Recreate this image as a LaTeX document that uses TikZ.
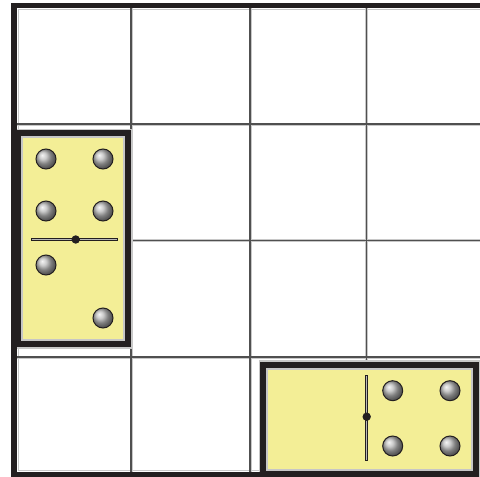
\documentclass[tikz,border=0pt]{standalone}
\definecolor{inkdark}{RGB}{35,31,32}
\definecolor{domyellow}{RGB}{243,238,150}
\definecolor{gridgray}{RGB}{80,80,80}
\definecolor{halo}{RGB}{200,200,200}
\tikzset{
  gridline/.style={gridgray, line width=1.6pt},
  gridhalo/.style={halo, line width=3pt},
  frame/.style={inkdark, line width=5.5pt},
  pip/.style={ball color=gray!55},
  pipedge/.style={draw=inkdark, line width=1pt},
}
\newcommand{\pipat}[2]{%
  \shade[pip] (#1,#2) circle (10pt);
  \draw[pipedge] (#1,#2) circle (10pt);}
\newcommand{\dominobox}[4]{% x1 y1 x2 y2
  \fill[halo] (#1-1.5,#2-1.5) rectangle (#3+1.5,#4+1.5);
  \fill[inkdark] (#1,#2) rectangle (#3,#4);
  \fill[gray!45] (#1+6,#2+6) rectangle (#3-6,#4-6);
  \fill[domyellow] (#1+8,#2+8) rectangle (#3-8,#4-8);}
\begin{document}
\begin{tikzpicture}[x=1pt,y=-1pt]
\useasboundingbox (0,0) rectangle (480,477);
\fill[white] (0,0) rectangle (480,477);
% grid halos
\foreach \gx in {131,250,366.5}
  \draw[gridhalo] (\gx,5.5) -- (\gx,474.5);
\foreach \gy in {124,240.5,357}
  \draw[gridhalo] (14,\gy) -- (480,\gy);
\draw[halo, line width=0.8pt] (18.5,9) -- (18.5,471);
\draw[halo, line width=0.8pt] (18.5,9.5) -- (480,9.5);
\draw[halo, line width=0.8pt] (18.5,470.5) -- (480,470.5);
% grid lines
\foreach \gx in {131,250,366.5}
  \draw[gridline] (\gx,5.5) -- (\gx,474.5);
\foreach \gy in {124,240.5,357}
  \draw[gridline] (14,\gy) -- (480,\gy);
% left domino
\dominobox{15}{130}{131}{347}
\draw[inkdark, line width=3pt] (31,239.5) -- (118,239.5);
\draw[gray!55, line width=1.2pt] (32,239.5) -- (117,239.5);
\fill[inkdark] (75.7,239.5) circle (4.2pt);
\pipat{46}{159}
\pipat{103}{159}
\pipat{46}{211}
\pipat{103}{211}
\pipat{46}{265}
\pipat{103}{318}
% bottom-right domino
\dominobox{260}{361.5}{479}{477}
\draw[inkdark, line width=3pt] (366.7,375) -- (366.7,461);
\draw[gray!55, line width=1.2pt] (366.7,376) -- (366.7,460);
\fill[inkdark] (366.7,416.7) circle (4.2pt);
\pipat{392.7}{390.7}
\pipat{450}{390.7}
\pipat{392.7}{446}
\pipat{450}{446}
% outer frame (open on the right), drawn last so it merges with the dominoes
\draw[frame] (480,5.5) -- (14,5.5) -- (14,474.5) -- (260,474.5);
\end{tikzpicture}
\end{document}
